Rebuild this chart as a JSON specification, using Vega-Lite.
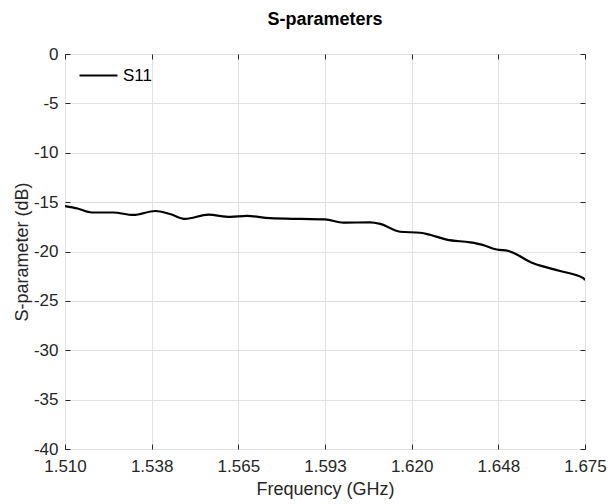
{
  "$schema": "https://vega.github.io/schema/vega-lite/v6.json",
  "width": 520,
  "height": 395,
  "autosize": {"type": "none"},
  "padding": {"left": 65, "top": 54, "right": 26, "bottom": 55},
  "title": {"text": "S-parameters", "fontSize": 18, "fontWeight": "bold", "font": "Liberation Sans", "color": "#000000", "offset": 16},
  "config": {
    "view": {"stroke": "#262626", "strokeWidth": 1},
    "font": "Liberation Sans",
    "axis": {
      "labelFont": "Liberation Sans", "titleFont": "Liberation Sans",
      "labelFontSize": 17, "titleFontSize": 18, "titleFontWeight": "normal",
      "labelColor": "#262626", "titleColor": "#262626",
      "gridColor": "#e2e2e2", "gridWidth": 1,
      "tickColor": "#262626", "domain": false
    }
  },
  "data": {"values": [
    {"f": 1.5100, "s": -15.4, "series": "S11"},
    {"f": 1.5140, "s": -15.65, "series": "S11"},
    {"f": 1.5185, "s": -16.05, "series": "S11"},
    {"f": 1.5253, "s": -16.05, "series": "S11"},
    {"f": 1.5317, "s": -16.3, "series": "S11"},
    {"f": 1.5386, "s": -15.9, "series": "S11"},
    {"f": 1.5433, "s": -16.2, "series": "S11"},
    {"f": 1.5481, "s": -16.7, "series": "S11"},
    {"f": 1.5555, "s": -16.27, "series": "S11"},
    {"f": 1.5624, "s": -16.5, "series": "S11"},
    {"f": 1.5677, "s": -16.4, "series": "S11"},
    {"f": 1.5750, "s": -16.62, "series": "S11"},
    {"f": 1.5846, "s": -16.7, "series": "S11"},
    {"f": 1.5925, "s": -16.74, "series": "S11"},
    {"f": 1.5983, "s": -17.08, "series": "S11"},
    {"f": 1.6068, "s": -17.05, "series": "S11"},
    {"f": 1.6100, "s": -17.2, "series": "S11"},
    {"f": 1.6163, "s": -18.0, "series": "S11"},
    {"f": 1.6227, "s": -18.1, "series": "S11"},
    {"f": 1.6258, "s": -18.3, "series": "S11"},
    {"f": 1.6311, "s": -18.8, "series": "S11"},
    {"f": 1.6385, "s": -19.07, "series": "S11"},
    {"f": 1.6422, "s": -19.3, "series": "S11"},
    {"f": 1.6470, "s": -19.8, "series": "S11"},
    {"f": 1.6507, "s": -19.95, "series": "S11"},
    {"f": 1.6586, "s": -21.2, "series": "S11"},
    {"f": 1.6671, "s": -21.97, "series": "S11"},
    {"f": 1.6745, "s": -22.7, "series": "S11"},
    {"f": 1.6750, "s": -22.9, "series": "S11"}
  ]},
  "layer": [
    {
      "mark": {"type": "line", "interpolate": "monotone", "strokeWidth": 2.2, "clip": true},
      "encoding": {
        "x": {"field": "f", "type": "quantitative", "scale": {"domain": [1.51, 1.675], "nice": false, "zero": false},
          "axis": {"orient": "bottom", "title": "Frequency (GHz)", "values": [1.51, 1.5375, 1.565, 1.5925, 1.62, 1.6475, 1.675],
            "labelExpr": "format(datum.value + 1e-9, '.3f')", "tickSize": -5, "labelPadding": 14, "titlePadding": 6, "labelFlush": false}},
        "y": {"field": "s", "type": "quantitative", "scale": {"domain": [-40, 0], "nice": false, "zero": false},
          "axis": {"orient": "left", "title": "S-parameter (dB)", "values": [-40, -35, -30, -25, -20, -15, -10, -5, 0],
            "labelExpr": "'' + datum.value", "tickSize": -5, "labelPadding": 12, "titlePadding": 2}},
        "color": {"field": "series", "type": "nominal", "scale": {"domain": ["S11"], "range": ["#000000"]},
          "legend": {"title": null, "orient": "none", "legendX": 8, "legendY": -4, "padding": 5, "symbolType": "stroke", "symbolSize": 1444, "symbolStrokeWidth": 2.2, "labelFontSize": 17, "labelFont": "Liberation Sans", "labelColor": "#000000", "labelOffset": 4}}
      }
    },
    {
      "mark": {"type": "line", "opacity": 0},
      "encoding": {
        "x": {"field": "f", "type": "quantitative", "scale": {"domain": [1.51, 1.675], "nice": false, "zero": false},
          "axis": {"orient": "top", "title": null, "labels": false, "grid": false, "values": [1.51, 1.5375, 1.565, 1.5925, 1.62, 1.6475, 1.675], "tickSize": -5}},
        "y": {"field": "s", "type": "quantitative", "scale": {"domain": [-40, 0], "nice": false, "zero": false},
          "axis": {"orient": "right", "title": null, "labels": false, "grid": false, "values": [-40, -35, -30, -25, -20, -15, -10, -5, 0], "tickSize": -5}}
      }
    }
  ],
  "resolve": {"axis": {"x": "independent", "y": "independent"}}
}
